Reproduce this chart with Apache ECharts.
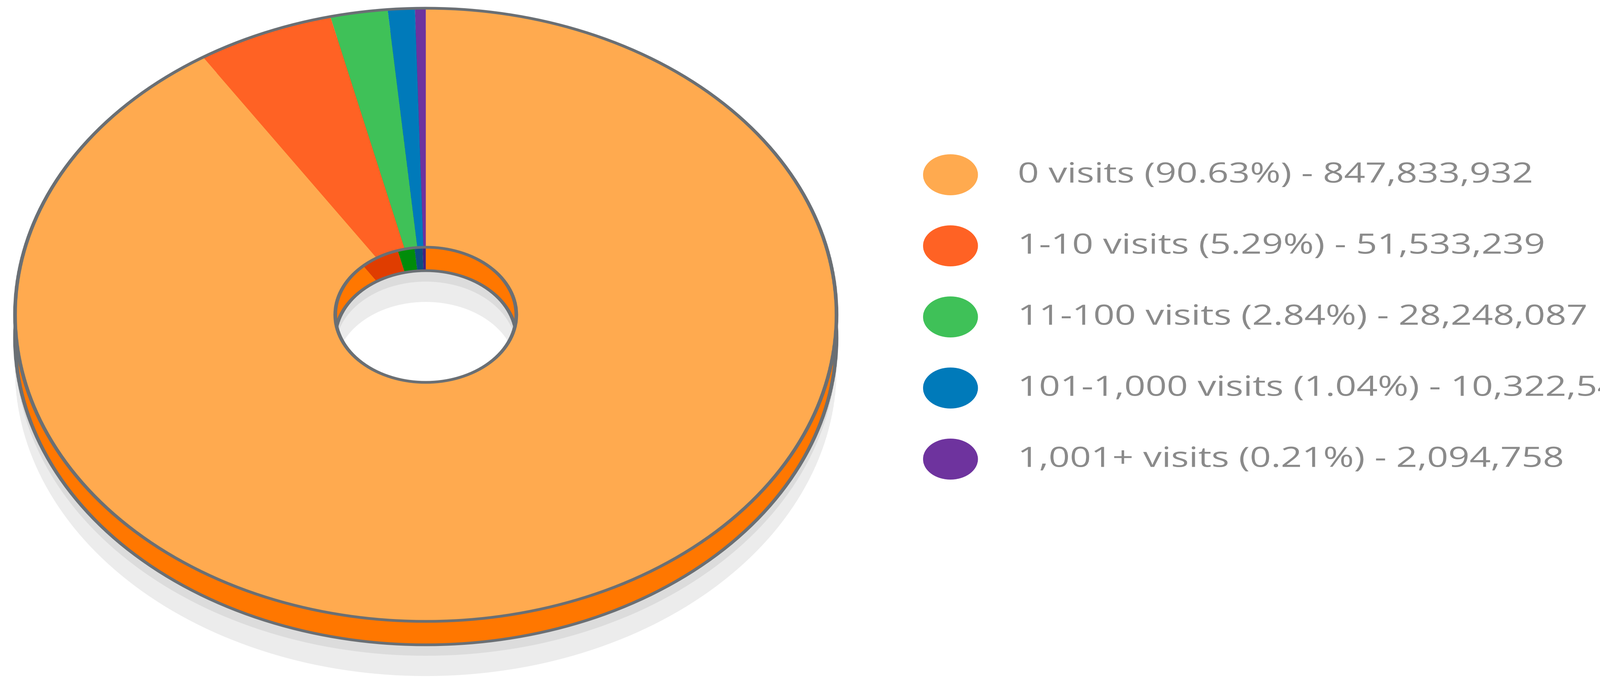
<!DOCTYPE html>
<html>
<head>
<meta charset="utf-8">
<style>
html,body{margin:0;padding:0;background:#fff;overflow:hidden;width:4247px;height:1736px}
#chart{width:3171px;height:1736px;transform:scaleX(1.3395);transform-origin:0 0}
</style>
<script src="https://cdn.jsdelivr.net/npm/echarts@6/dist/echarts.min.js"></script>
</head>
<body>
<div id="chart"></div>
<script>
const categories = ['0 visits', '1-10 visits', '11-100 visits', '101-1,000 visits', '1,001+ visits'];
// Percentages and counts as printed in the legend.
const percents = [90.63, 5.29, 2.84, 1.04, 0.21];
const counts = [847833932, 51533239, 28248087, 10322545, 2094758];
// Slice shares as drawn in the picture, measured from the slice angles
// (the drawn green and purple slices differ a little from their printed percentages).
const sliceShares = [90.88, 5.39, 2.25, 1.06, 0.42];
const topColors = ['#FFAA4F', '#FF6224', '#3FC158', '#007ABA', '#6E339E'];
const sideColors = ['#FF7700', '#E03D00', '#008C0A', '#0D4F80', '#41227F'];

const cx = 813.7, cy = 806, outerR = 785, innerR = 173;
const sideDepth = 60, shadowNear = 88, shadowFar = 140;
const rimColor = '#6A6F74', rimWidth = 7;
const total = sliceShares.reduce((a, b) => a + b, 0);

function ring(z, dy, data, itemStyle) {
  return {
    type: 'pie', z, silent: true, animation: false, clockwise: true, startAngle: 90,
    center: [cx, cy + dy], radius: [innerR, outerR],
    label: {show: false}, labelLine: {show: false}, emphasis: {disabled: true},
    itemStyle: Object.assign({borderWidth: 0}, itemStyle || {}), data
  };
}
function solid(name, color) { return [{name, value: total, itemStyle: {color}}]; }

const legendText = {};
categories.forEach((c, i) => {
  legendText[c] = c + ' (' + percents[i].toFixed(2) + '%) - ' + counts[i].toLocaleString('en-US');
});

const chart = echarts.init(document.getElementById('chart'), null, {renderer: 'canvas', devicePixelRatio: 2});
chart.setOption({
  backgroundColor: '#fff',
  animation: false,
  legend: {
    show: true, orient: 'vertical', left: 1759, top: 390,
    itemWidth: 107, itemHeight: 105, itemGap: 77, icon: 'circle', selectedMode: false,
    itemStyle: {borderWidth: 0},
    textStyle: {fontFamily: '"Open Sans"', fontSize: 71, color: '#8A8A8A', padding: [0, 0, 0, 70]},
    formatter: name => legendText[name],
    data: categories
  },
  series: [
    ring(1, shadowFar, solid('shadow far', '#ECECEC')),
    ring(2, shadowNear, solid('shadow near', '#DCDCDC')),
    ring(3, sideDepth, sliceShares.map((v, i) => ({name: categories[i] + ' side', value: v, itemStyle: {color: sideColors[i]}}))),
    ring(4, sideDepth, solid('side rim', 'transparent'), {borderColor: rimColor, borderWidth: rimWidth}),
    ring(5, 0, sliceShares.map((v, i) => ({name: categories[i], value: v, itemStyle: {color: topColors[i]}}))),
    ring(6, 0, solid('top rim', 'transparent'), {borderColor: rimColor, borderWidth: rimWidth})
  ]
});
</script>
</body>
</html>
